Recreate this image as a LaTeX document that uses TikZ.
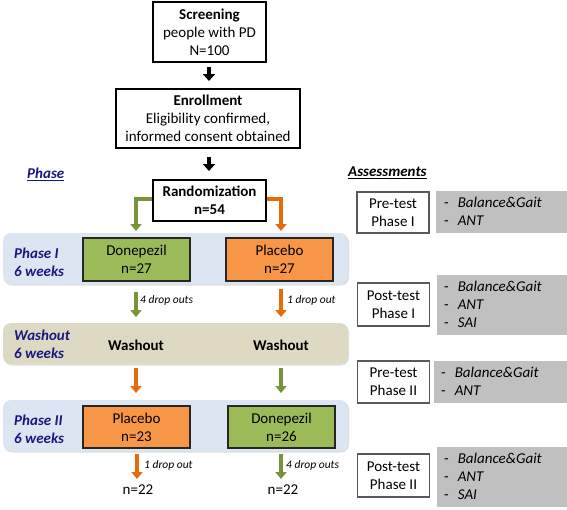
\documentclass[tikz,border=0pt]{standalone}
\usepackage{fontspec}
\setmainfont{Carlito}
\usetikzlibrary{arrows.meta,shadows}
\definecolor{bandblue}{RGB}{220,230,242}
\definecolor{bandtan}{RGB}{221,217,195}
\definecolor{boxgreen}{RGB}{155,187,89}
\definecolor{boxorange}{RGB}{247,150,70}
\definecolor{arrgreen}{RGB}{119,147,60}
\definecolor{arrorange}{RGB}{228,108,10}
\definecolor{navy}{RGB}{24,24,128}
\definecolor{assgray}{RGB}{192,192,192}
\definecolor{assborder}{RGB}{89,89,89}
\tikzset{
  mainfont/.style={font=\fontsize{15}{18}\selectfont},
  blkbox/.style={draw=black, line width=1.5pt, fill=white, align=center, inner sep=0pt, mainfont},
  band/.style={rounded corners=8pt, inner sep=0pt, drop shadow={shadow xshift=1pt, shadow yshift=-1.5pt, opacity=0.25}},
  trtbox/.style={draw=black!85, line width=1.5pt, align=center, inner sep=0pt, minimum width=107pt, mainfont},
  phaselbl/.style={anchor=west, align=left, text=navy, font=\fontsize{15}{18}\selectfont\bfseries\itshape, inner sep=0pt},
  washlbl/.style={font=\fontsize{15}{18}\selectfont\bfseries, inner sep=0pt},
  droplbl/.style={anchor=west, font=\fontsize{11.5}{13}\selectfont\itshape, inner sep=0pt},
  fatarrow/.style={line width=4.5pt, line join=miter, -{Triangle[width=11pt,length=7pt]}},
  blkarrow/.style={line width=4.5pt, -{Triangle[width=12pt,length=7pt]}},
  assbox/.style={draw=assborder, line width=1.3pt, fill=white, align=center, inner sep=0pt, minimum width=72pt, mainfont},
  grayfill/.style={fill=assgray, inner sep=0pt},
  graytext/.style={anchor=west, align=left, inner sep=0pt, mainfont},
}
\newcommand{\asslist}[1]{\begin{tabular}{@{}l@{\hspace{9pt}}l@{}}#1\end{tabular}}
\begin{document}
\begin{tikzpicture}[x=1pt,y=-1pt]
\useasboundingbox (0,0) rectangle (567,509);
\fill[white] (0,0) rectangle (567,509);

% bands
\node[band, fill=bandblue, minimum width=345pt, minimum height=51pt] (band1) at (175.5,258.5) {};
\node[band, fill=bandtan, minimum width=345pt, minimum height=41pt] (band2) at (175.5,343.5) {};
\node[band, fill=bandblue, minimum width=345pt, minimum height=51pt] (band3) at (175.5,425.5) {};

% top boxes
\node[blkbox, minimum width=113pt, minimum height=60pt] (screen) at (209.5,32) {\textbf{Screening}\\people with PD\\N=100};
\node[blkbox, minimum width=184pt, minimum height=59pt] (enroll) at (208,118.5) {\textbf{Enrollment}\\Eligibility confirmed,\\informed consent obtained};
\node[blkbox, minimum width=113pt, minimum height=41pt] (rand) at (209.5,200.5) {\textbf{Randomization}\\\textbf{n=54}};

\coordinate (b1s) at (209,67);
\coordinate (b1e) at (209,81);
\coordinate (b2s) at (209,157);
\coordinate (b2e) at (209,171);
\draw[blkarrow] (b1s) -- (b1e);
\draw[blkarrow] (b2s) -- (b2e);

% section headers
\node[anchor=west, inner sep=0pt, text=navy, font=\fontsize{15}{18}\selectfont\bfseries\itshape] (phasehdr) at (27,174) {\underline{Phase}};
\node[anchor=west, inner sep=0pt, font=\fontsize{15}{18}\selectfont\bfseries\itshape] (asshdr) at (348,173) {\underline{Assessments}};

% treatment boxes
\node[trtbox, fill=boxgreen, minimum height=43pt] (don1) at (136.5,259.5) {Donepezil\\n=27};
\node[trtbox, fill=boxorange, minimum height=43pt] (pla1) at (279.5,259.5) {Placebo\\n=27};
\node[trtbox, fill=boxorange, minimum height=42pt] (pla2) at (136.5,427) {Placebo\\n=23};
\node[trtbox, fill=boxgreen, minimum height=42pt] (don2) at (281.5,427) {Donepezil\\n=26};

% phase labels
\node[phaselbl] (lbl1) at (14,262) {Phase I\\6 weeks};
\node[phaselbl] (lbl2) at (14,344) {Washout\\6 weeks};
\node[phaselbl] (lbl3) at (14,429) {Phase II\\6 weeks};

\node[washlbl] (w1) at (136,345) {Washout};
\node[washlbl] (w2) at (281,345) {Washout};

% randomization elbows
\coordinate (gtip) at (136,231);
\coordinate (otip) at (281,231);
\draw[fatarrow, draw=arrgreen] ([yshift=1.5pt]rand.west) -| (gtip);
\draw[fatarrow, draw=arrorange] ([yshift=1.5pt]rand.east) -| (otip);

% drop outs phase I
\coordinate (g1s) at (136,292);
\coordinate (g1e) at (136,317);
\coordinate (o1s) at (281,289);
\coordinate (o1e) at (281,317);
\draw[fatarrow, draw=arrgreen] (g1s) -- (g1e);
\draw[fatarrow, draw=arrorange] (o1s) -- (o1e);
\node[droplbl] (dl1) at (140,300) {4 drop outs};
\node[droplbl] (dl2) at (287,300) {1 drop out};

% washout to phase II
\coordinate (o2s) at (136,368);
\coordinate (o2e) at (136,393);
\coordinate (g2s) at (281,368);
\coordinate (g2e) at (281,393);
\draw[fatarrow, draw=arrorange] (o2s) -- (o2e);
\draw[fatarrow, draw=arrgreen] (g2s) -- (g2e);

% drop outs phase II
\coordinate (o3s) at (137,454);
\coordinate (o3e) at (137,479);
\coordinate (g3s) at (281,454);
\coordinate (g3e) at (281,479);
\draw[fatarrow, draw=arrorange] (o3s) -- (o3e);
\draw[fatarrow, draw=arrgreen] (g3s) -- (g3e);
\node[droplbl] (dl3) at (144,465) {1 drop out};
\node[droplbl] (dl4) at (286,465) {4 drop outs};

\node[inner sep=0pt, mainfont] (n1) at (138,490) {n=22};
\node[inner sep=0pt, mainfont] (n2) at (283,490) {n=22};

% assessments
\node[grayfill, minimum width=131pt, minimum height=42pt] (g1) at (501.5,212) {};
\node[grayfill, minimum width=130pt, minimum height=60pt] (g2) at (502,305) {};
\node[grayfill, minimum width=133pt, minimum height=42pt] (g3) at (500.5,382) {};
\node[grayfill, minimum width=130pt, minimum height=60pt] (g4) at (502,477) {};

\node[assbox, minimum height=41pt] (pre1) at (393,212.5) {Pre-test\\Phase I};
\node[assbox, minimum height=43pt] (post1) at (393.5,304.5) {Post-test\\Phase I};
\node[assbox, minimum height=42pt] (pre2) at (393.5,382) {Pre-test\\Phase II};
\node[assbox, minimum height=43pt] (post2) at (393.5,475.5) {Post-test\\Phase II};

\node[graytext] (t1) at (444,213) {\asslist{-&\textit{Balance\&Gait}\\-&\textit{ANT}}};
\node[graytext] (t2) at (444,306) {\asslist{-&\textit{Balance\&Gait}\\-&\textit{ANT}\\-&\textit{SAI}}};
\node[graytext] (t3) at (441,383) {\asslist{-&\textit{Balance\&Gait}\\-&\textit{ANT}}};
\node[graytext] (t4) at (444,478) {\asslist{-&\textit{Balance\&Gait}\\-&\textit{ANT}\\-&\textit{SAI}}};
\end{tikzpicture}
\end{document}
